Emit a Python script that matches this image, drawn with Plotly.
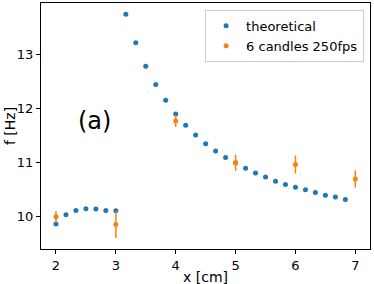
import plotly.graph_objects as go

x_theo = [2.0, 2.167, 2.333, 2.5, 2.667, 2.833, 3.0, 3.167, 3.333, 3.5, 3.667, 3.833,
          4.0, 4.167, 4.333, 4.5, 4.667, 4.833, 5.0, 5.167, 5.333, 5.5, 5.667, 5.833,
          6.0, 6.167, 6.333, 6.5, 6.667, 6.833]
f_theo = [9.86, 10.03, 10.11, 10.14, 10.135, 10.11, 10.105, 13.74, 13.215, 12.78, 12.44, 12.15,
          11.895, 11.685, 11.505, 11.346, 11.21, 11.09, 10.99, 10.89, 10.80, 10.73, 10.65, 10.59,
          10.54, 10.49, 10.44, 10.39, 10.36, 10.31]

x_meas = [2, 3, 4, 5, 6, 7]
f_meas = [9.99, 9.85, 11.765, 10.99, 10.96, 10.69]
f_err = [0.11, 0.25, 0.11, 0.15, 0.167, 0.16]

fig = go.Figure()
fig.add_trace(go.Scatter(x=x_theo, y=f_theo, mode="markers", name="theoretical",
                         marker=dict(color="#1f77b4", size=5)))
fig.add_trace(go.Scatter(x=x_meas, y=f_meas, mode="markers", name="6 candles 250fps",
                         marker=dict(color="#ff7f0e", size=5),
                         error_y=dict(type="data", array=f_err, color="#ff7f0e",
                                      thickness=1.5, width=0)))

fig.add_annotation(x=0.105, y=0.52, xref="paper", yref="paper", text="(a)",
                   showarrow=False, font=dict(size=24, color="black"),
                   xanchor="left", yanchor="middle")
fig.add_annotation(x=0.5, y=-0.114, xref="paper", yref="paper", text="x [cm]",
                   showarrow=False, font=dict(size=14, color="black"),
                   xanchor="center", yanchor="middle")
fig.add_annotation(x=-0.094, y=0.5, xref="paper", yref="paper", text="f [Hz]",
                   showarrow=False, font=dict(size=14, color="black"), textangle=-90,
                   xanchor="center", yanchor="middle")

axis_common = dict(showline=True, linecolor="black", linewidth=1, mirror=True,
                   ticks="outside", ticklen=4, tickcolor="black", showgrid=False,
                   zeroline=False, automargin=False, tickfont=dict(size=13, color="black"))
fig.update_xaxes(range=[1.75, 7.245], tickvals=[2, 3, 4, 5, 6, 7], **axis_common)
fig.update_yaxes(range=[9.395, 13.95], tickvals=[10, 11, 12, 13], **axis_common)

fig.update_layout(
    width=374, height=284,
    margin=dict(l=41, r=4, t=3, b=35),
    paper_bgcolor="white", plot_bgcolor="white",
    font=dict(family="DejaVu Sans", size=13, color="black"),
    legend=dict(x=0.982, y=0.972, xanchor="right", yanchor="top",
                bordercolor="#cccccc", borderwidth=1, bgcolor="white",
                font=dict(size=13), itemsizing="trace", tracegroupgap=0),
    showlegend=True,
)

fig.write_html("out.html", config={"displayModeBar": False},
               post_script="document.body.style.margin='0';document.body.style.padding='0';")
